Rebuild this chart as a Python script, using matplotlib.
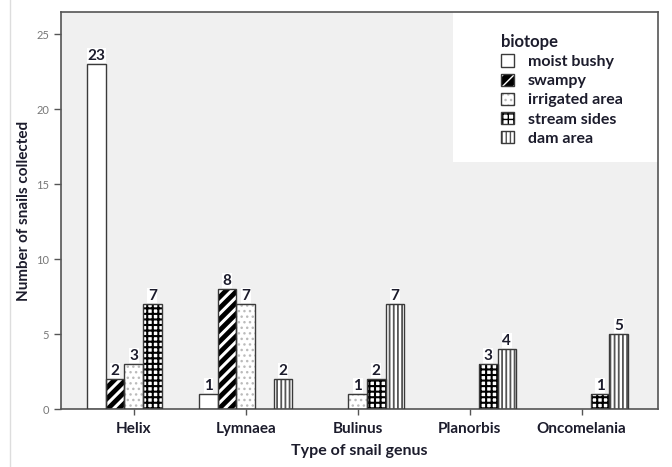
import matplotlib
matplotlib.use('Agg')
import matplotlib.pyplot as plt
from matplotlib.patches import Rectangle
from matplotlib.lines import Line2D
from matplotlib.legend_handler import HandlerTuple
import numpy as np

genera = ['Helix', 'Lymnaea', 'Bulinus', 'Planorbis', 'Oncomelania']
biotopes = ['moist bushy', 'swampy', 'irrigated area', 'stream sides', 'dam area']
moist_bushy = [23, 1, 0, 0, 0]
swampy = [2, 8, 0, 0, 0]
irrigated_area = [3, 7, 1, 0, 0]
stream_sides = [7, 0, 2, 3, 1]
dam_area = [0, 2, 7, 4, 5]
series = [moist_bushy, swampy, irrigated_area, stream_sides, dam_area]

# face, hatch, hatch colour, hatch linewidth
styles = [
    ('white', None, '#444444', 1.0),
    ('black', '///', 'white', 2.2),
    ('white', '...', '#bbbbbb', 1.0),
    ('white', '+++', 'black', 1.5),
    ('white', '||||', '#555555', 1.3),
]

plt.rcParams['font.family'] = ['Lato', 'DejaVu Sans']
txt_col = '#1c1c2c'
edge_col = '#3a3a3a'

fig = plt.figure(figsize=(6.72, 4.67), dpi=100)
fig.patch.set_facecolor('white')
ax = fig.add_axes([0.0908, 0.124, 0.888, 0.850])
ax.set_facecolor('#f0f0f0')

x = np.arange(len(genera))
w = 0.166
handles = []
for i, (vals, name, st) in enumerate(zip(series, biotopes, styles)):
    face, hatch, hcol, hlw = st
    vals = np.array(vals)
    keep = vals > 0
    xs = x[keep] + (i - 2) * w
    with plt.rc_context({'hatch.linewidth': hlw}):
        ax.bar(xs, vals[keep], w, color=face, edgecolor=hcol, hatch=hatch,
               linewidth=0, zorder=2)
        h1 = Rectangle((0, 0), 1, 1, facecolor=face, edgecolor=hcol, hatch=hatch, linewidth=0)
    ax.bar(xs, vals[keep], w, fill=False, edgecolor=edge_col, linewidth=1.0, zorder=3)
    for xx, v in zip(xs, vals[keep]):
        ax.text(xx, v + 0.1, str(v), ha='center', va='bottom', fontsize=11,
                fontweight='bold', color=txt_col, zorder=4,
                bbox=dict(facecolor='white', edgecolor='none', pad=0.3))
    h2 = Rectangle((0, 0), 1, 1, fill=False, edgecolor=edge_col, linewidth=1.0)
    handles.append((h1, h2))

ax.set_xlim(-0.65, 4.68)
ax.set_ylim(0, 26.47)
ax.set_xticks(x)
ax.set_xticklabels(genera, fontsize=11, fontweight='bold', color=txt_col)
ax.set_yticks([0, 5, 10, 15, 20, 25])
ax.tick_params(axis='y', labelsize=8, labelcolor='#777777', length=5, width=1, color='#555555')
ax.tick_params(axis='x', length=4, width=1, color='#555555', pad=5)
ax.set_xlabel('Type of snail genus', fontsize=11.5, fontweight='bold', color=txt_col, labelpad=6)
ax.set_ylabel('Number of snails collected', fontsize=11, fontweight='bold', color=txt_col, labelpad=4)
for s in ax.spines.values():
    s.set_color('#555555')
    s.set_linewidth(1.2)

# white legend panel
ax.add_patch(Rectangle((0.657, 0.622), 0.343, 0.378, transform=ax.transAxes,
                       facecolor='white', edgecolor='none', zorder=1))
leg = ax.legend(handles, biotopes, title='biotope', loc='upper left',
                bbox_to_anchor=(0.737, 0.945), frameon=False, fontsize=11.5,
                title_fontsize=12, handlelength=0.8, handleheight=0.8,
                handletextpad=0.9, labelspacing=0.28, borderpad=0, borderaxespad=0,
                alignment='left', handler_map={tuple: HandlerTuple(ndivide=1, pad=0)})
leg.get_title().set_fontweight('bold')
leg.get_title().set_color(txt_col)
for t in leg.get_texts():
    t.set_fontweight('bold')
    t.set_color(txt_col)

fig.add_artist(Line2D([0.015, 0.015], [0.0, 1.0], transform=fig.transFigure,
                      color='#dddddd', linewidth=1))

fig.savefig('out.png', dpi=100)
